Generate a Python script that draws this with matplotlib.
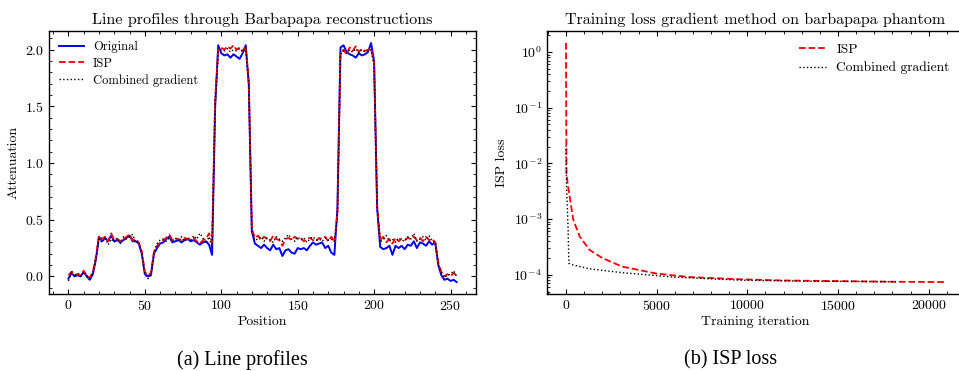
import numpy as np
import matplotlib

matplotlib.use("Agg")
import matplotlib.pyplot as plt
from matplotlib.ticker import MultipleLocator, LogLocator, NullFormatter

# ---- data: line profiles (every second position) ----
positions = np.arange(0, 256, 2)

original = [
    -0.02, 0.03, 0.00, 0.01, 0.00, 0.04, 0.00, -0.03, 0.02, 0.15, 0.35, 0.31, 0.34, 0.31, 0.36, 0.31,
    0.32, 0.30, 0.32, 0.34, 0.36, 0.31, 0.31, 0.29, 0.20, 0.02, 0.00, 0.01, 0.20, 0.25, 0.29, 0.30,
    0.33, 0.35, 0.30, 0.31, 0.32, 0.30, 0.32, 0.33, 0.31, 0.32, 0.30, 0.28, 0.30, 0.31, 0.28, 0.19,
    1.50, 2.04, 1.97, 1.95, 1.96, 1.93, 1.96, 1.94, 1.92, 1.97, 2.04, 1.70, 0.40, 0.29, 0.27, 0.25,
    0.28, 0.25, 0.23, 0.28, 0.24, 0.25, 0.18, 0.23, 0.24, 0.21, 0.20, 0.25, 0.24, 0.25, 0.23, 0.27,
    0.30, 0.28, 0.29, 0.30, 0.25, 0.27, 0.21, 0.19, 0.60, 2.02, 2.04, 1.98, 1.96, 1.95, 1.93, 1.97,
    1.95, 1.96, 1.98, 2.06, 1.90, 0.60, 0.26, 0.24, 0.25, 0.27, 0.19, 0.27, 0.25, 0.27, 0.24, 0.28,
    0.27, 0.31, 0.25, 0.30, 0.29, 0.27, 0.31, 0.28, 0.30, 0.10, 0.01, -0.03, -0.02, -0.04, -0.03, -0.05,
]
isp = [
    0.01, 0.04, 0.01, 0.02, 0.01, 0.05, 0.00, -0.01, 0.04, 0.17, 0.36, 0.33, 0.35, 0.31, 0.38, 0.32,
    0.33, 0.31, 0.33, 0.35, 0.37, 0.32, 0.33, 0.30, 0.22, 0.04, 0.01, 0.03, 0.22, 0.27, 0.30, 0.32,
    0.34, 0.37, 0.32, 0.33, 0.33, 0.32, 0.34, 0.33, 0.33, 0.34, 0.31, 0.29, 0.32, 0.33, 0.38, 0.30,
    1.55, 2.00, 2.02, 2.00, 2.03, 2.01, 2.04, 2.00, 2.02, 1.99, 2.03, 1.72, 0.42, 0.34, 0.36, 0.32,
    0.35, 0.33, 0.31, 0.36, 0.33, 0.32, 0.27, 0.33, 0.34, 0.32, 0.35, 0.33, 0.34, 0.31, 0.33, 0.34,
    0.32, 0.31, 0.34, 0.33, 0.35, 0.31, 0.35, 0.30, 0.55, 1.97, 2.00, 1.96, 2.02, 1.99, 2.03, 1.98,
    2.01, 1.99, 2.00, 2.01, 1.88, 0.62, 0.32, 0.35, 0.30, 0.33, 0.29, 0.34, 0.31, 0.33, 0.32, 0.34,
    0.33, 0.35, 0.32, 0.34, 0.31, 0.35, 0.32, 0.33, 0.30, 0.12, 0.04, 0.00, 0.02, 0.00, 0.03, 0.01,
]
combined = [
    -0.04, 0.05, 0.00, 0.03, 0.00, 0.04, 0.01, -0.02, 0.03, 0.16, 0.33, 0.30, 0.34, 0.28, 0.33, 0.30,
    0.34, 0.29, 0.35, 0.33, 0.35, 0.37, 0.30, 0.31, 0.21, 0.02, -0.02, 0.02, 0.21, 0.29, 0.32, 0.33,
    0.31, 0.34, 0.31, 0.34, 0.32, 0.35, 0.31, 0.34, 0.32, 0.36, 0.33, 0.38, 0.34, 0.29, 0.35, 0.25,
    1.50, 1.98, 2.00, 1.99, 2.01, 1.98, 2.00, 1.99, 2.01, 1.98, 2.02, 1.70, 0.40, 0.32, 0.33, 0.35,
    0.31, 0.34, 0.32, 0.30, 0.35, 0.33, 0.31, 0.34, 0.37, 0.33, 0.31, 0.35, 0.32, 0.34, 0.30, 0.33,
    0.35, 0.32, 0.33, 0.31, 0.34, 0.32, 0.33, 0.31, 0.52, 1.96, 1.99, 1.97, 2.00, 1.98, 2.01, 1.97,
    2.00, 1.98, 1.99, 2.00, 1.86, 0.60, 0.30, 0.33, 0.36, 0.31, 0.33, 0.30, 0.34, 0.32, 0.31, 0.35,
    0.33, 0.38, 0.31, 0.33, 0.35, 0.32, 0.36, 0.31, 0.30, 0.10, 0.03, -0.01, 0.01, 0.02, 0.05, 0.00,
]

# ---- data: training loss ----
isp_iter = [0, 30, 100, 200, 400, 750, 1300, 2000, 3100, 5000, 6800, 9600, 12000, 15000, 18000, 20900]
isp_loss = [1.45, 6.5e-3, 4.2e-3, 2.6e-3, 9.8e-4, 4.9e-4, 2.8e-4, 2.0e-4, 1.4e-4, 1.05e-4,
            9.1e-5, 8.3e-5, 7.9e-5, 7.7e-5, 7.5e-5, 7.4e-5]
comb_iter = [0, 30, 80, 120, 160, 400, 1300, 3100, 5900, 9600, 13000, 18200]
comb_loss = [0.021, 4e-3, 1.5e-3, 6e-4, 1.6e-4, 1.5e-4, 1.28e-4, 1.09e-4, 9.1e-5, 8.0e-5, 7.7e-5, 7.5e-5]

plt.rcParams.update({
    "font.family": ["cmr10", "DejaVu Serif"],
    "mathtext.fontset": "cm",
    "axes.formatter.use_mathtext": True,
    "font.size": 10,
    "axes.linewidth": 1.0,
    "xtick.direction": "in",
    "ytick.direction": "in",
    "xtick.top": True,
    "ytick.right": True,
    "xtick.major.size": 3.8,
    "ytick.major.size": 3.8,
    "xtick.minor.size": 2.0,
    "ytick.minor.size": 2.0,
    "xtick.major.width": 0.8,
    "ytick.major.width": 0.8,
    "xtick.minor.width": 0.6,
    "ytick.minor.width": 0.6,
    "xtick.minor.visible": True,
    "ytick.minor.visible": True,
    "legend.frameon": False,
})

fig = plt.figure(figsize=(9.59, 3.71), dpi=100)
ax1 = fig.add_axes([0.0511, 0.2075, 0.4453, 0.7089])
ax2 = fig.add_axes([0.5704, 0.2075, 0.4348, 0.7089])

ax1.plot(positions, original, color="#0000ff", lw=1.4, label="Original")
ax1.plot(positions, isp, color="red", lw=1.3, ls="--", label="ISP")
ax1.plot(positions, combined, color="black", lw=1.0, ls=":", label="Combined gradient")
ax1.set_title("Line profiles through Barbapapa reconstructions", fontsize=11.6, pad=5)
ax1.set_xlabel("Position", labelpad=2)
ax1.set_ylabel("Attenuation")
ax1.xaxis.set_minor_locator(MultipleLocator(10))
ax1.yaxis.set_minor_locator(MultipleLocator(0.1))
ax1.yaxis.set_major_locator(MultipleLocator(0.5))
ax1.legend(loc="upper left", fontsize=9, handlelength=2.0, handletextpad=0.7,
           labelspacing=0.35, borderaxespad=0.4)

ax2.plot(isp_iter, isp_loss, color="red", lw=1.3, ls="--", label="ISP")
ax2.plot(comb_iter, comb_loss, color="black", lw=1.0, ls=":", label="Combined gradient")
ax2.set_yscale("log")
ax2.set_title("Training loss gradient method on barbapapa phantom", fontsize=11.5, pad=5)
ax2.set_xlabel("Training iteration", labelpad=2)
ax2.set_ylabel("ISP loss")
ax2.xaxis.set_minor_locator(MultipleLocator(1000))
ax2.yaxis.set_major_locator(LogLocator(base=10, numticks=10))
ax2.yaxis.set_minor_locator(LogLocator(base=10, subs=np.arange(2, 10), numticks=20))
ax2.yaxis.set_minor_formatter(NullFormatter())
ax2.legend(loc="upper right", fontsize=9.7, handlelength=2.0, handletextpad=0.8,
           labelspacing=0.45, bbox_to_anchor=(0.995, 1.0))

fig.text(0.2525, 0.03, "(a) Line profiles", family="Liberation Serif", fontsize=14.5,
         ha="center", va="center")
fig.text(0.7615, 0.03, "(b) ISP loss", family="Liberation Serif", fontsize=14.5,
         ha="center", va="center")

fig.savefig("out.png", dpi=100)
